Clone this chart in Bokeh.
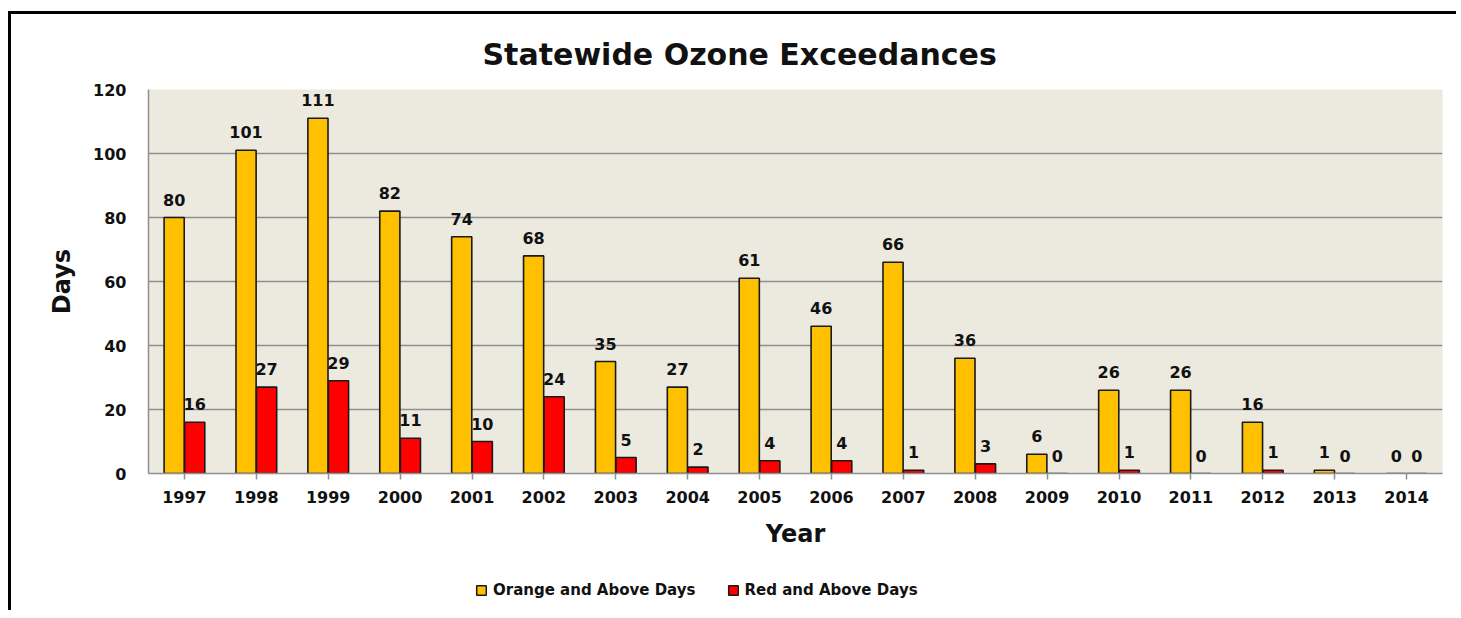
from bokeh.plotting import figure
from bokeh.layouts import column
from bokeh.models import ColumnDataSource, FactorRange, LabelSet, Legend, LegendItem, FixedTicker
from bokeh.core.properties import value
from bokeh.transform import dodge
from bokeh.embed import file_html
from bokeh.resources import INLINE

years = [str(y) for y in range(1997, 2015)]
orange_days = [80, 101, 111, 82, 74, 68, 35, 27, 61, 46, 66, 36, 6, 26, 26, 16, 1, 0]
red_days = [16, 27, 29, 11, 10, 24, 5, 2, 4, 4, 1, 3, 0, 1, 0, 1, 0, 0]
y_ticks = [0, 20, 40, 60, 80, 100, 120]
series_names = ["Orange and Above Days", "Red and Above Days"]
series_colors = ["#FFC000", "#FF0000"]

src = ColumnDataSource(dict(
    year=years, orange=orange_days, red=red_days,
    orange_txt=[str(v) for v in orange_days],
    red_txt=[str(v) for v in red_days],
))

FONT = "DejaVu Sans"
TXT = "#111111"
GRID = "#8f8f8f"
EDGE = "#1a1a1a"

p = figure(width=1445, height=546, x_range=FactorRange(*years), y_range=(0, 120),
           output_backend="svg", toolbar_location=None,
           min_border_left=137, min_border_right=14, min_border_top=75, min_border_bottom=87)

p.title.text = "Statewide Ozone Exceedances"
p.title.text_font = FONT
p.title.text_font_size = "30px"
p.title.text_font_style = "bold"
p.title.text_color = TXT
p.title.align = "left"
p.title.offset = 334
p.title.standoff = 36

p.background_fill_color = "#ECE9DF"
p.border_fill_color = "white"
p.outline_line_color = None

p.vbar(x=dodge("year", -0.143, range=p.x_range), top="orange", width=0.28, source=src,
       fill_color=series_colors[0], line_color=EDGE, line_width=1.6)
p.vbar(x=dodge("year", 0.143, range=p.x_range), top="red", width=0.28, source=src,
       fill_color=series_colors[1], line_color=EDGE, line_width=1.6)

for field, off in (("orange", -0.143), ("red", 0.143)):
    p.add_layout(LabelSet(x=dodge("year", off, range=p.x_range), y=field, text=field + "_txt",
                          source=src, text_align="center", text_baseline="alphabetic", y_offset=12,
                          text_font=value(FONT), text_font_size="16px", text_font_style="bold",
                          text_color=TXT))

p.xgrid.grid_line_color = None
p.ygrid.grid_line_color = GRID
p.ygrid.grid_line_width = 1.5

p.yaxis.ticker = FixedTicker(ticks=y_ticks)
p.yaxis.axis_label = "Days"
p.xaxis.axis_label = "Year"
for ax in (p.xaxis, p.yaxis):
    ax.axis_line_color = GRID
    ax.axis_line_width = 1.5
    ax.major_tick_line_color = GRID
    ax.major_tick_line_width = 1.5
    ax.minor_tick_line_color = None
    ax.major_label_text_font = FONT
    ax.major_label_text_font_size = "16px"
    ax.major_label_text_font_style = "bold"
    ax.major_label_text_color = TXT
    ax.axis_label_text_font = FONT
    ax.axis_label_text_font_size = "24px"
    ax.axis_label_text_font_style = "bold"
    ax.axis_label_text_color = TXT
p.yaxis.major_tick_out = 0
p.yaxis.major_tick_in = 0
p.yaxis.major_label_standoff = 22
p.yaxis.axis_label_standoff = 14
p.xaxis.major_tick_out = 6
p.xaxis.major_tick_in = 0
p.xaxis.major_label_standoff = 11
p.xaxis.axis_label_standoff = 14

# legend strip (proxy glyphs have no drawable data)
lg = figure(width=1445, height=50, x_range=(0, 1), y_range=(0, 1),
            output_backend="svg", toolbar_location=None,
            min_border_left=0, min_border_right=0, min_border_top=0, min_border_bottom=0)
lg.axis.visible = False
lg.grid.grid_line_color = None
lg.outline_line_color = None
lg.background_fill_color = "white"
lg.border_fill_color = "white"
items = []
for name, col in zip(series_names, series_colors):
    r = lg.vbar(x=[0.5], top=[float("nan")], width=0.1, fill_color=col, line_color=EDGE, line_width=1.5)
    items.append(LegendItem(label=name, renderers=[r]))
legend = Legend(items=items, orientation="horizontal", location=(327, 11),
                border_line_color=None, background_fill_alpha=0,
                glyph_width=12, glyph_height=12, label_standoff=6, spacing=31,
                label_text_font=FONT, label_text_font_size="15px", label_text_font_style="bold",
                label_text_color=TXT, margin=0, padding=4)
lg.add_layout(legend)

layout = column(p, lg, spacing=0, margin=(11, 0, 0, 8),
                styles={"border-top": "3px solid #000", "border-left": "3px solid #000"})

open("out.html", "w").write(file_html(layout, INLINE))
